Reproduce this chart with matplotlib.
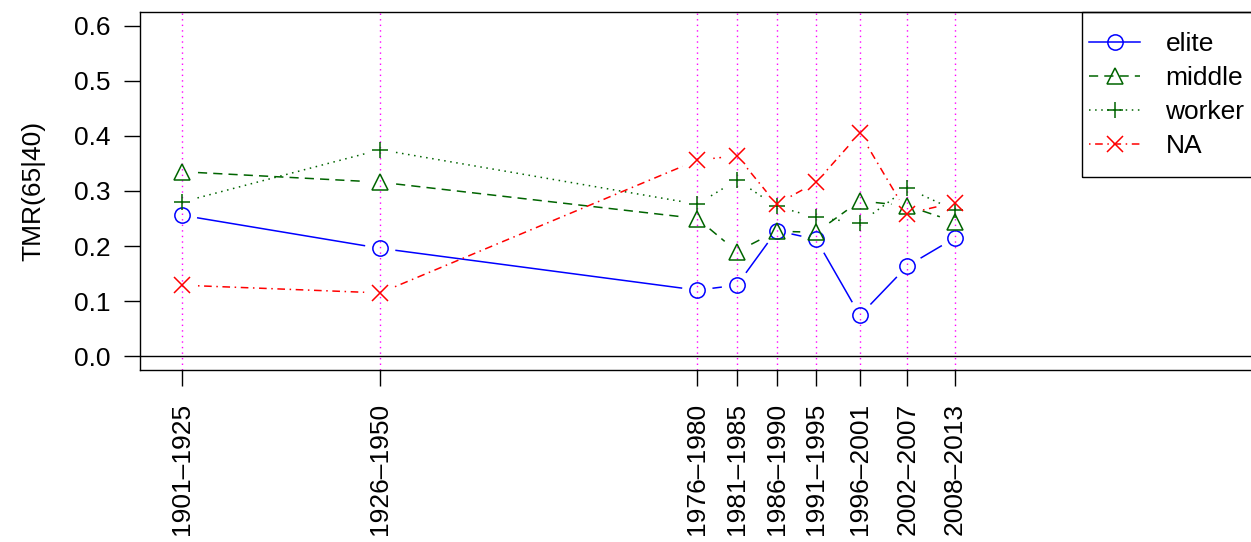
import numpy as np
import matplotlib
matplotlib.use("Agg")
import matplotlib.pyplot as plt
from matplotlib.lines import Line2D
from matplotlib.patches import Rectangle

plt.rcParams['font.family'] = ['Liberation Sans', 'DejaVu Sans']

# Data: period midpoints and TMR(65|40) per class
periods = ["1901\u20131925", "1926\u20131950", "1976\u20131980", "1981\u20131985",
           "1986\u20131990", "1991\u20131995", "1996\u20132001", "2002\u20132007",
           "2008\u20132013"]
mid_years = [1913, 1938, 1978, 1983, 1988, 1993, 1998.5, 2004.5, 2010.5]

elite = [0.256, 0.196, 0.120, 0.129, 0.228, 0.212, 0.074, 0.164, 0.215]
middle = [0.335, 0.316, 0.250, 0.190, 0.227, 0.225, 0.282, 0.273, 0.244]
worker = [0.280, 0.375, 0.276, 0.320, 0.272, 0.252, 0.242, 0.305, 0.265]
na_cls = [0.129, 0.115, 0.356, 0.364, 0.276, 0.316, 0.405, 0.259, 0.279]

series = [
    ("elite", elite, "#0000FF", "o", "-"),
    ("middle", middle, "#006400", "^", (0, (6, 4))),
    ("worker", worker, "#006400", "+", (0, (1, 3))),
    ("NA", na_cls, "#FF0000", "x", (0, (1, 3, 5, 3))),
]

W, H = 1251, 542
FS = 19
fig = plt.figure(figsize=(W / 100, H / 100), dpi=100)
px_per_year = (955 - 182) / 97.5
x_left = 1913 - (182 - 140) / px_per_year
x_right = 2050
right_px = 182 + (x_right - 1913) * px_per_year
ax = fig.add_axes([140 / W, 1 - 370 / H, (right_px - 140) / W, (370 - 12) / H])
ax.set_xlim(x_left, x_right)
ax.set_ylim(-0.025, 0.625)

for x in mid_years:
    ax.axvline(x, color="#FF00FF", lw=1.0, linestyle=(0, (1, 3)), zorder=1)
ax.axhline(0, color="black", lw=1.0, zorder=1)

fig.canvas.draw()
gap = 16  # px, gap around points like R type="b"
for name, vals, col, mk, ls in series:
    pts = ax.transData.transform(np.column_stack([mid_years, vals]))
    for i in range(len(pts) - 1):
        p0, p1 = pts[i], pts[i + 1]
        d = p1 - p0
        L = np.hypot(*d)
        if L <= 2 * gap:
            continue
        u = d / L
        a = ax.transData.inverted().transform(p0 + u * gap)
        b = ax.transData.inverted().transform(p1 - u * gap)
        ax.add_line(Line2D([a[0], b[0]], [a[1], b[1]], color=col, lw=1.1,
                           linestyle=ls, zorder=2))
    ax.plot(mid_years, vals, linestyle="none", marker=mk, markersize=11,
            markerfacecolor="none", markeredgecolor=col, markeredgewidth=1.1,
            zorder=3)

# legend box (extends past the right edge like the original)
fig.patches.append(Rectangle((1082 / W, 1 - 177 / H), 200 / W, 165 / H,
                             transform=fig.transFigure, fill=False,
                             edgecolor="black", lw=1.0))
handles = [Line2D([0], [0], color=col, lw=1.1, linestyle=ls, marker=mk,
                  markersize=11, markerfacecolor="none", markeredgewidth=1.1)
           for name, vals, col, mk, ls in series]
leg = fig.legend(handles, [s[0] for s in series], loc="upper left",
                 bbox_to_anchor=(1089 / W, 1 - 32 / H), fontsize=FS,
                 frameon=False, borderaxespad=0, borderpad=0,
                 handlelength=1.95, handletextpad=0.95, labelspacing=0.38)

ax.set_xticks(mid_years)
ax.set_xticklabels(periods, rotation=90, fontsize=FS)
ax.set_yticks([0.0, 0.1, 0.2, 0.3, 0.4, 0.5, 0.6])
ax.set_yticklabels(["0.0", "0.1", "0.2", "0.3", "0.4", "0.5", "0.6"], fontsize=FS)
ax.tick_params(axis="x", length=11.5, width=1.0, pad=12)
ax.tick_params(axis="y", length=11.5, width=1.0, pad=10)
ax.set_ylabel("TMR(65|40)", fontsize=FS, labelpad=20)
for s in ax.spines.values():
    s.set_linewidth(1.0)

fig.savefig("out.png", dpi=100)
